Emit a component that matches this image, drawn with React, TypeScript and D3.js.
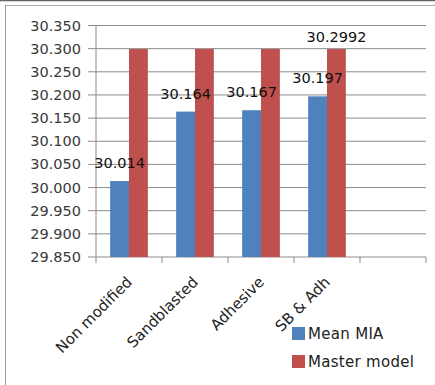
import React from "react";
import * as d3 from "d3";

const categories = ["Non modified", "Sandblasted", "Adhesive", "SB & Adh", ""];
const meanMIA = [30.014, 30.164, 30.167, 30.197, null];
const masterModel = [30.2992, 30.2992, 30.2992, 30.2992, null];
const masterLabelShown = [false, false, false, true, false];
const yTicks = [29.85, 29.9, 29.95, 30.0, 30.05, 30.1, 30.15, 30.2, 30.25, 30.3, 30.35];
const seriesNames = ["Mean MIA", "Master model"];
const colors = ["#4F81BD", "#C0504D"];

const W = 435;
const H = 385;
const FONT = "'DejaVu Sans', Verdana, sans-serif";

export default function App() {
  const y = d3.scaleLinear().domain([29.85, 30.35]).range([257, 25.5]);
  const x = d3.scaleBand().domain(categories.map((c, i) => String(i))).range([96, 426]).padding(0);
  const bw = x.bandwidth();
  const barW = bw / 3.5;
  const fmt3 = d3.format(".3f");

  return (
    <svg width={W} height={H} style={{ position: "absolute", left: 0, top: 0 }}>
      <rect x={0} y={0} width={W} height={H} fill="#fff" />
      <line x1={0} x2={W} y1={0.5} y2={0.5} stroke="#666" strokeWidth={1.5} />
      <line x1={5} x2={W} y1={5.5} y2={5.5} stroke="#aaa" strokeWidth={1} />
      <line x1={5.5} x2={5.5} y1={5} y2={H} stroke="#999" strokeWidth={1} />

      {yTicks.map((t) => (
        <g key={t}>
          <line x1={88} x2={426} y1={y(t)} y2={y(t)} stroke="#8c8c8c" strokeWidth={1} />
          <text x={81} y={y(t) + 5} textAnchor="end" fontFamily={FONT} fontSize={14.5} fill="#3a3a3a">
            {fmt3(t)}
          </text>
        </g>
      ))}
      <line x1={96} x2={96} y1={y(30.35)} y2={263} stroke="#8c8c8c" strokeWidth={1} />
      {categories.map((c, i) => (
        <line key={"t" + i} x1={(x(String(i)) as number) + bw} x2={(x(String(i)) as number) + bw} y1={257} y2={263} stroke="#8c8c8c" />
      ))}

      {categories.map((c, i) => {
        const x0 = (x(String(i)) as number) + bw / 2;
        const els: any[] = [];
        const m = meanMIA[i];
        const r = masterModel[i];
        if (m != null) {
          els.push(<rect key="b" x={x0 - barW} y={y(m)} width={barW} height={257 - y(m)} fill={colors[0]} />);
        }
        if (r != null) {
          els.push(<rect key="r" x={x0} y={y(r)} width={barW} height={257 - y(r)} fill={colors[1]} />);
        }
        if (m != null) {
          els.push(
            <text key="bl" x={x0 - barW / 2} y={y(m) - 13} textAnchor="middle" fontFamily={FONT} fontSize={14.5} fill="#111">
              {fmt3(m)}
            </text>
          );
        }
        if (r != null && masterLabelShown[i]) {
          els.push(
            <text key="rl" x={x0 + barW / 2} y={y(r) - 7.5} textAnchor="middle" fontFamily={FONT} fontSize={14.5} fill="#111">
              {String(r)}
            </text>
          );
        }
        if (c) {
          els.push(
            <text key="c" transform={`translate(${x0 + 4},${283}) rotate(-45)`} textAnchor="end" fontFamily={FONT} fontSize={15} fill="#222">
              {c}
            </text>
          );
        }
        return <g key={i}>{els}</g>;
      })}

      {seriesNames.map((s, i) => (
        <g key={s}>
          <rect x={292} y={327 + i * 28} width={13} height={13} fill={colors[i]} />
          <text x={308} y={338.5 + i * 28} fontFamily={FONT} fontSize={15} letterSpacing={0.3} fill="#222">
            {s}
          </text>
        </g>
      ))}
    </svg>
  );
}
